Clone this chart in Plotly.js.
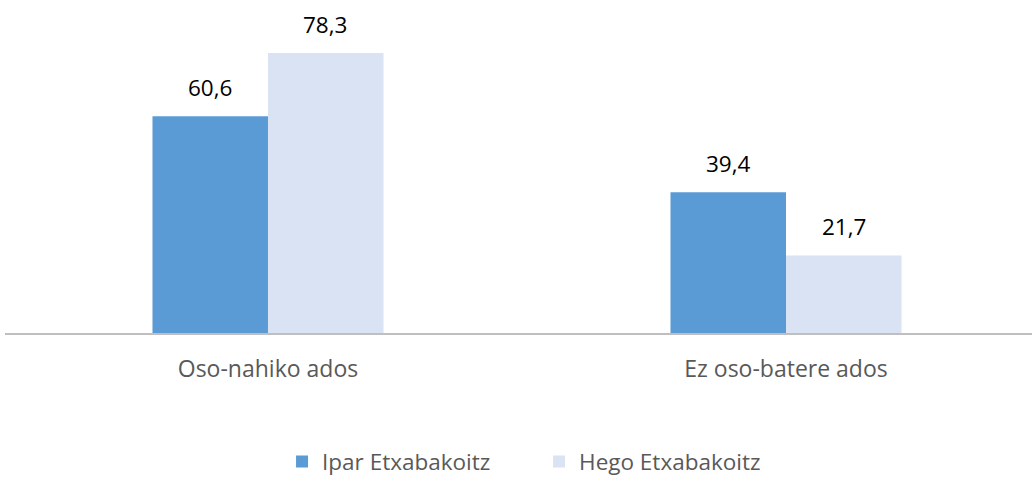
<!DOCTYPE html>
<html><head><meta charset="utf-8">
<script src="https://cdn.plot.ly/plotly-3.0.1.min.js"></script>
<style>html,body{margin:0;padding:0;background:#fff}</style>
</head><body><div id="chart" style="width:1032px;height:480px"></div>
<script>
const categories = ["Oso-nahiko ados", "Ez oso-batere ados"];
const seriesNames = ["Ipar Etxabakoitz", "Hego Etxabakoitz"];
const iparValues = [60.6, 39.4];
const hegoValues = [78.3, 21.7];
const colors = ["#5B9BD5", "#DAE3F3"];
const FONT = "'Open Sans', sans-serif";

const fmt = v => v.toFixed(1).replace('.', ',');
const allVals = [iparValues, hegoValues];
const traces = allVals.map((vals, i) => ({
  type: 'bar', x: categories, y: vals, name: seriesNames[i],
  marker: {color: colors[i]}, hoverinfo: 'none'
}));
const annotations = [];
allVals.forEach((vals, i) => {
  vals.forEach((v, j) => {
    annotations.push({
      x: j, y: v, xref: 'x', yref: 'y', text: fmt(v), showarrow: false,
      xshift: (i === 0 ? -1 : 1) * 57.5, yshift: 11, yanchor: 'bottom',
      font: {family: FONT, size: 22.5, color: '#000000'}
    });
  });
});
const layout = {
  width: 1032, height: 480,
  margin: {l: 5, r: 0, t: 47, b: 147, autoexpand: false},
  paper_bgcolor: '#fff', plot_bgcolor: '#fff',
  barmode: 'group', bargap: 0.554, bargroupgap: 0,
  xaxis: {
    type: 'category', range: [-0.5077, 1.4749], automargin: false,
    showline: true, linecolor: '#BFBFBF', linewidth: 1.5,
    ticks: 'outside', ticklen: 15, tickcolor: 'rgba(0,0,0,0)',
    tickfont: {family: FONT, size: 23, color: '#595959'},
    showgrid: false, zeroline: false
  },
  yaxis: {range: [0, 80], visible: false, showgrid: false, zeroline: false},
  showlegend: true,
  legend: {
    orientation: 'h', x: 0.52, xanchor: 'center', yref: 'container', y: 0.038, yanchor: 'middle',
    font: {family: FONT, size: 22.5, color: '#595959'},
    entrywidth: 212, itemwidth: 30, tracegroupgap: 0
  },
  annotations: annotations
};
Plotly.newPlot('chart', traces, layout, {displayModeBar: false, staticPlot: true});
</script></body></html>
